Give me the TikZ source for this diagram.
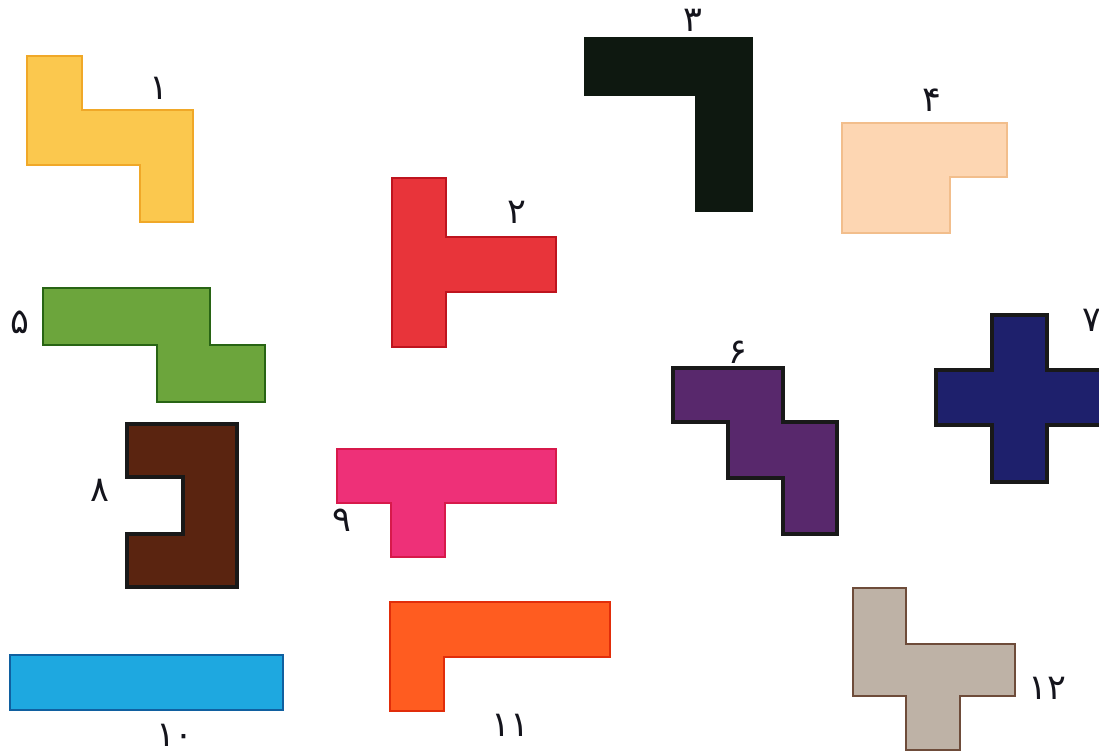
\documentclass[tikz,border=0pt]{standalone}
\usepackage{fontspec}
\newfontfamily\persianfont[Script=Arabic]{DejaVu Sans}
\usepackage{tikz}
\definecolor{pyellow}{RGB}{251,200,78}
\definecolor{pyellowe}{RGB}{240,168,40}
\definecolor{pred}{RGB}{232,52,58}
\definecolor{prede}{RGB}{190,20,30}
\definecolor{pblack}{RGB}{14,24,16}
\definecolor{ppeach}{RGB}{253,214,178}
\definecolor{ppeache}{RGB}{242,190,140}
\definecolor{pgreen}{RGB}{108,165,60}
\definecolor{pgreene}{RGB}{40,100,20}
\definecolor{ppurple}{RGB}{88,40,108}
\definecolor{pnavy}{RGB}{30,32,108}
\definecolor{pbrown}{RGB}{90,36,16}
\definecolor{ppink}{RGB}{238,48,120}
\definecolor{ppinke}{RGB}{215,25,75}
\definecolor{pblue}{RGB}{30,168,224}
\definecolor{pbluee}{RGB}{16,96,160}
\definecolor{porange}{RGB}{255,92,32}
\definecolor{porangee}{RGB}{225,45,10}
\definecolor{pgrey}{RGB}{190,178,166}
\definecolor{pgreye}{RGB}{110,76,58}
\definecolor{inkcol}{RGB}{20,20,28}

\begin{document}
\begin{tikzpicture}[x=0.02cm, y=-0.02cm,
    piece/.style={line width=0.9pt, line join=miter},
    darkpiece/.style={line width=1.8pt, draw=black!90, line join=miter},
    num/.style={font=\persianfont\fontsize{20}{24}\selectfont, text=inkcol, inner sep=0pt}
]
    \useasboundingbox (0,0) rectangle (1099,752);

    % Pieces
    \draw[piece, draw=pyellowe, fill=pyellow] (27,56) -- (82,56) -- (82,110) -- (193,110) -- (193,222) -- (140,222) -- (140,165) -- (27,165) -- cycle;
    \draw[piece, draw=prede, fill=pred] (392,178) -- (446,178) -- (446,237) -- (556,237) -- (556,292) -- (446,292) -- (446,347) -- (392,347) -- cycle;
    \draw[piece, draw=pblack, fill=pblack] (585,38) -- (752,38) -- (752,211) -- (696,211) -- (696,95) -- (585,95) -- cycle;
    \draw[piece, draw=ppeache, fill=ppeach] (842,123) -- (1007,123) -- (1007,177) -- (950,177) -- (950,233) -- (842,233) -- cycle;
    \draw[piece, draw=pgreene, fill=pgreen] (43,288) -- (210,288) -- (210,345) -- (265,345) -- (265,402) -- (157,402) -- (157,345) -- (43,345) -- cycle;
    \draw[darkpiece, fill=ppurple] (673,368) -- (783,368) -- (783,422) -- (837,422) -- (837,534) -- (783,534) -- (783,478) -- (728,478) -- (728,422) -- (673,422) -- cycle;
    \draw[darkpiece, fill=pnavy] (992,315) -- (1047,315) -- (1047,370) -- (1105,370) -- (1105,425) -- (1047,425) -- (1047,482) -- (992,482) -- (992,425) -- (936,425) -- (936,370) -- (992,370) -- cycle;
    \draw[darkpiece, fill=pbrown] (127,424) -- (237,424) -- (237,587) -- (127,587) -- (127,534) -- (183,534) -- (183,477) -- (127,477) -- cycle;
    \draw[piece, draw=ppinke, fill=ppink] (337,449) -- (556,449) -- (556,503) -- (445,503) -- (445,557) -- (391,557) -- (391,503) -- (337,503) -- cycle;
    \draw[piece, draw=pbluee, fill=pblue] (10,655) rectangle (283,710);
    \draw[piece, draw=porangee, fill=porange] (390,602) -- (610,602) -- (610,657) -- (444,657) -- (444,711) -- (390,711) -- cycle;
    \draw[piece, draw=pgreye, fill=pgrey] (853,588) -- (906,588) -- (906,644) -- (1015,644) -- (1015,696) -- (960,696) -- (960,750) -- (906,750) -- (906,696) -- (853,696) -- cycle;

    % Numbers
    \foreach \nm/\pos/\txt in {n1/{159,88}/۱, n2/{517,212}/۲, n3/{693,20}/۳, n4/{932,100}/۴,
                               n5/{20,322}/۵, n6/{738,352}/۶, n7/{1092,320}/۷, n8/{100,490}/۸,
                               n9/{342,520}/۹, n10/{175,735}/۱۰, n11/{510,725}/۱۱, n12/{1047,688}/۱۲}
        \node[num] (\nm) at (\pos) {\txt};
\end{tikzpicture}
\end{document}
